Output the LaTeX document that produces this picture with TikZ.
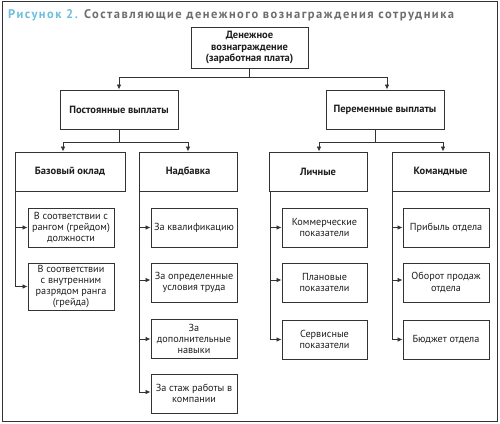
\documentclass[tikz,border=0pt]{standalone}
\usepackage{fontspec}
\setmainfont{PT Sans}
\newfontfamily\titlefont[LetterSpace=12,BoldFont={PT Sans Bold}]{PT Sans}
\usetikzlibrary{arrows.meta}
\definecolor{ttlblue}{HTML}{6CC0DA}
\definecolor{ttlgray}{HTML}{6E6E6E}
\definecolor{ln}{HTML}{333333}
\definecolor{txt}{HTML}{1E1E1E}
\begin{document}
\begin{tikzpicture}[x=1pt,y=-1pt,
  box/.style={draw=ln, line width=0.9pt, align=center, inner sep=0pt, text=txt,
    font=\fontsize{10.2}{11.3}\selectfont},
  boldbox/.style={box, font=\fontsize{10.5}{11.3}\selectfont\bfseries},
  lvltwo/.style={boldbox, minimum width=118pt, minimum height=39pt},
  lvlthree/.style={boldbox, minimum height=39pt},
  leaf/.style={box, minimum width=86pt, minimum height=39pt},
  conn/.style={draw=ln, line width=0.8pt},
  arr/.style={conn, -{Latex[length=5pt,width=4.5pt]}},
  frame/.style={draw=ln, line width=1pt}]
\useasboundingbox (0,0) rectangle (500,423);
\draw[frame] (2,1) rectangle (497,421);
\node[anchor=base west, inner sep=0pt] (title) at (8,18)
  {\titlefont\fontsize{12.5}{14}\selectfont\bfseries\textcolor{ttlblue}{Рисунок 2.} \textcolor{ttlgray}{Составляющие денежного вознаграждения сотрудника}};

% top
\node[boldbox, minimum width=117pt, minimum height=41pt] (top) at (249.5,47.5)
  {Денежное\\вознаграждение\\(заработная плата)};
% level 2
\node[lvltwo] (post) at (119,109.5) {Постоянные выплаты};
\node[lvltwo] (perem) at (385,109.5) {Переменные выплаты};
% level 3
\node[lvlthree, minimum width=110pt] (base) at (70,171.5) {Базовый оклад};
\node[lvlthree, minimum width=98pt] (nadb) at (188,171.5) {Надбавка};
\node[lvlthree, minimum width=98pt] (lich) at (318,171.5) {Личные};
\node[lvlthree, minimum width=97pt] (kom) at (440.5,171.5) {Командные};
% leaves
\node[leaf] (b1) at (71,227.5) {В соответствии с\\рангом (грейдом)\\должности};
\node[leaf, minimum height=47pt] (b2) at (71,286.5) {В соответствии\\с внутренним\\разрядом ранга\\(грейда)};

\node[leaf] (n1) at (194,227.5) {За квалификацию};
\node[leaf] (n2) at (194,282.5) {За определенные\\условия труда};
\node[leaf] (n3) at (194,339) {За\\дополнительные\\навыки};
\node[leaf] (n4) at (194,393.5) {За стаж работы в\\компании};

\node[leaf, minimum width=85pt] (l1) at (324.5,227.5) {Коммерческие\\показатели};
\node[leaf, minimum width=85pt] (l2) at (324.5,282.5) {Плановые\\показатели};
\node[leaf, minimum width=85pt] (l3) at (324.5,339.5) {Сервисные\\показатели};

\node[leaf] (k1) at (446,227.5) {Прибыль отдела};
\node[leaf] (k2) at (446,282.5) {Оборот продаж\\отдела};
\node[leaf] (k3) at (446,339.5) {Бюджет отдела};

% connectors level 1 -> 2
\coordinate (j0) at (249.5,77);
\draw[conn] (top.south) -- (j0);
\draw[arr] (j0) -| (post.north);
\draw[arr] (j0) -| ([xshift=2pt]perem.north);
% level 2 -> 3
\coordinate (j1) at (119,142);
\draw[conn] (post.south) -- (j1);
\draw[arr] (j1) -| ([xshift=-7pt]base.north);
\draw[arr] (j1) -| (nadb.north);
\coordinate (j2) at (375,142);
\draw[conn] (perem.south -| j2) -- (j2);
\draw[arr] (j2) -| ([xshift=1pt]lich.north);
\draw[arr] (j2) -| ([xshift=2.5pt]kom.north);
% level 3 -> leaves
\draw[arr] ([xshift=0.5pt]base.south west) |- (b1.west);
\draw[arr] ([xshift=0.5pt]base.south west) |- (b2.west);
\draw[arr] ([xshift=0.5pt]nadb.south west) |- (n1.west);
\draw[arr] ([xshift=0.5pt]nadb.south west) |- ([yshift=2.5pt]n2.west);
\draw[arr] ([xshift=0.5pt]nadb.south west) |- (n3.west);
\draw[arr] ([xshift=0.5pt]nadb.south west) |- ([yshift=1.5pt]n4.west);
\draw[arr] ([xshift=2pt]lich.south west) |- (l1.west);
\draw[arr] ([xshift=2pt]lich.south west) |- ([yshift=2.5pt]l2.west);
\draw[arr] ([xshift=2pt]lich.south west) |- (l3.west);
\draw[arr] ([xshift=1pt]kom.south west) |- (k1.west);
\draw[arr] ([xshift=1pt]kom.south west) |- ([yshift=2.5pt]k2.west);
\draw[arr] ([xshift=1pt]kom.south west) |- (k3.west);
\end{tikzpicture}
\end{document}
